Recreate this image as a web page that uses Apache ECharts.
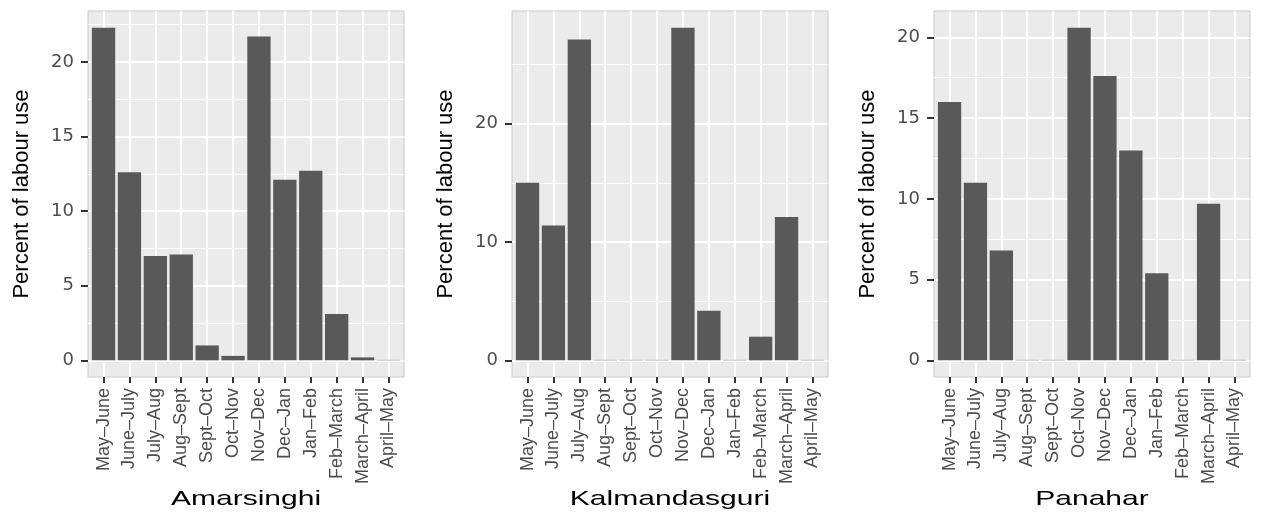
<!DOCTYPE html>
<html><head><meta charset="utf-8">
<script src="https://cdn.jsdelivr.net/npm/echarts@6/dist/echarts.min.js"></script>
<style>html,body{margin:0;padding:0;background:#fff}#c{width:1266px;height:515px}</style>
</head><body><div id="c"></div>
<script>
const categories = ['May–June','June–July','July–Aug','Aug–Sept','Sept–Oct','Oct–Nov','Nov–Dec','Dec–Jan','Jan–Feb','Feb–March','March–April','April–May'];
const sites = ['Amarsinghi','Kalmandasguri','Panahar'];
const amarsinghi = [22.3,12.6,7.0,7.1,1.0,0.3,21.7,12.1,12.7,3.1,0.2,0];
const kalmandasguri = [15.0,11.4,27.1,0,0,0,28.1,4.2,0,2.0,12.1,0];
const panahar = [16.0,11.0,6.8,0,0,20.6,17.6,13.0,5.4,0,9.7,0];
const yMajor1 = [0,5,10,15,20];
const yMinor1 = [2.5,7.5,12.5,17.5,22.5];
const yMajor2 = [0,10,20];
const yMinor2 = [5,15,25];
const yMajor3 = [0,5,10,15,20];
const yMinor3 = [2.5,7.5,12.5,17.5];
const yTitle = 'Percent of labour use';

const panels = [
  {name: sites[0], data: amarsinghi, major: yMajor1, minor: yMinor1, left: 88},
  {name: sites[1], data: kalmandasguri, major: yMajor2, minor: yMinor2, left: 512},
  {name: sites[2], data: panahar, major: yMajor3, minor: yMinor3, left: 934}
];
const gridTop = 11, gridH = 366, gridW = 316;
const unit = gridW / (categories.length - 1 + 1.2);
const barW = unit * 0.9;
const idx = categories.map((c, i) => i);

const grid = [], xAxis = [], yAxis = [], series = [], graphic = [];
panels.forEach((p, i) => {
  const M = Math.max(...p.data);
  const ymin = -0.05 * M, ymax = 1.05 * M;
  grid.push({left: p.left, top: gridTop, width: gridW, height: gridH, show: true,
    backgroundColor: '#EBEBEB', borderColor: '#c9c9c9', borderWidth: 1});
  xAxis.push({type: 'value', gridIndex: i, position: 'bottom', min: -0.6, max: categories.length - 1 + 0.6,
    axisLine: {show: false, onZero: false},
    axisTick: {show: true, customValues: idx, length: 6, lineStyle: {color: '#333', width: 2}},
    axisLabel: {customValues: idx, formatter: v => categories[Math.round(v)], rotate: 90, margin: 11,
      fontFamily: 'Liberation Sans', fontSize: 18, color: '#4D4D4D'},
    splitLine: {show: true, lineStyle: {color: '#fff', width: 2}}});
  yAxis.push({type: 'value', gridIndex: i, min: ymin, max: ymax, position: 'left',
    name: yTitle, nameLocation: 'middle', nameRotate: 90, nameGap: 55,
    nameTextStyle: {fontFamily: 'Liberation Sans', fontSize: 22, color: '#000'},
    axisLine: {show: false, onZero: false},
    axisTick: {show: true, customValues: p.major, length: 7, lineStyle: {color: '#333', width: 2}},
    axisLabel: {customValues: p.major, margin: 14, fontFamily: 'DejaVu Sans', fontSize: 18, color: '#4D4D4D'},
    splitLine: {show: true, lineStyle: {color: '#fff', width: 2}}});
  yAxis.push({type: 'value', gridIndex: i, min: ymin, max: ymax, position: 'right',
    axisLine: {show: false, onZero: false},
    axisTick: {show: false, customValues: p.minor},
    axisLabel: {show: false, customValues: p.minor},
    splitLine: {show: true, lineStyle: {color: '#fff', width: 1}}});
  series.push({type: 'bar', xAxisIndex: i, yAxisIndex: 2 * i, barWidth: barW, z: 3,
    itemStyle: {color: '#595959'},
    data: p.data.map((v, k) => v === 0
      ? {value: [k, v], itemStyle: {borderColor: '#d4d4d4', borderWidth: 1.5}}
      : {value: [k, v]})});
  graphic.push({type: 'text', x: p.left + gridW / 2, y: 499, scaleX: 1.43,
    style: {text: p.name, font: '21px "Liberation Sans"', fill: '#000', textAlign: 'center', textVerticalAlign: 'middle'}});
});

const chart = echarts.init(document.getElementById('c'), null, {renderer: 'canvas'});
chart.setOption({animation: false, grid, xAxis, yAxis, series, graphic});
</script>
</body></html>
